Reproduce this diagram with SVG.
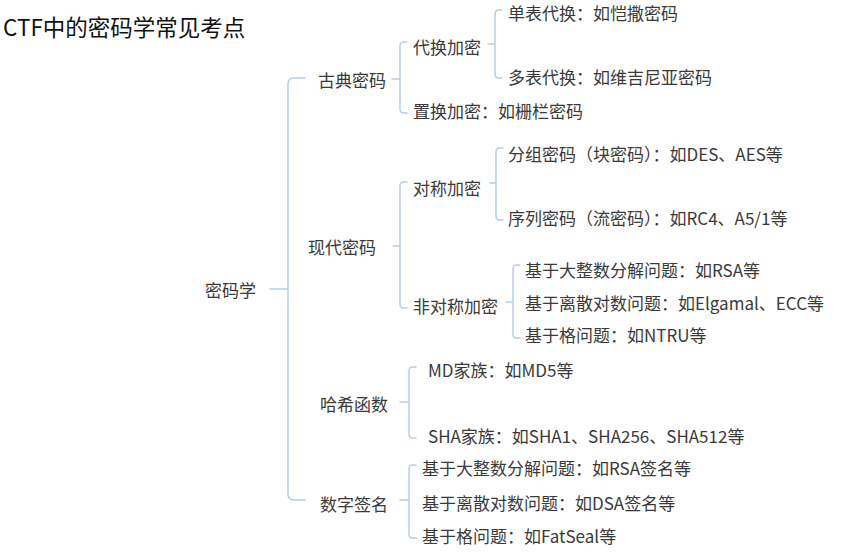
<svg xmlns="http://www.w3.org/2000/svg" width="866" height="557" viewBox="0 0 866 557">
<style>
text{font-family:"Noto Sans CJK SC","Microsoft YaHei","Liberation Sans",sans-serif;fill:#3a3a3a;font-size:17px;dominant-baseline:central}
.title{font-size:22.5px;fill:#111}
.c{fill:none;stroke:#b9cde6;stroke-width:1.5;stroke-linecap:round}
</style>
<rect width="866" height="557" fill="#fff"/>
<text class="title" x="3" y="26">CTF中的密码学常见考点</text>
<g id="connectors">
<path class="c" d="M270 289H288M305 78H294Q288 78 288 84V494Q288 500 294 500H305"/>
<path class="c" d="M392 79H400M407 42H404Q400 42 400 46V109Q400 113 404 113H407"/>
<path class="c" d="M488 44H495M502 10H499Q495 10 495 14V74Q495 78 499 78H502"/>
<path class="c" d="M393 246H400M407 182H404Q400 182 400 186V304Q400 308 404 308H407"/>
<path class="c" d="M490 183H496M503 148H500Q496 148 496 152V216Q496 220 500 220H503"/>
<path class="c" d="M506 302H513M520 265H517Q513 265 513 269V334Q513 338 517 338H520"/>
<path class="c" d="M400 402H409M416 367H413Q409 367 409 371V434Q409 438 413 438H416"/>
<path class="c" d="M400 500H409M416 465H413Q409 465 409 469V534Q409 538 413 538H416"/>
</g>
<g id="n-root"><text x="205" y="289">密码学</text></g>
<g id="n-classic"><text x="318" y="79">古典密码</text></g>
<g id="n-subst"><text x="413" y="46">代换加密</text></g>
<g id="n-mono"><text x="508" y="12">单表代换：如恺撒密码</text></g>
<g id="n-poly"><text x="508" y="76">多表代换：如维吉尼亚密码</text></g>
<g id="n-transp"><text x="413" y="110">置换加密：如栅栏密码</text></g>
<g id="n-modern"><text x="308" y="246">现代密码</text></g>
<g id="n-sym"><text x="413" y="187">对称加密</text></g>
<g id="n-block"><text x="508" y="153">分组密码（块密码）：如DES、AES等</text></g>
<g id="n-stream"><text x="508" y="217">序列密码（流密码）：如RC4、A5/1等</text></g>
<g id="n-asym"><text x="413" y="305">非对称加密</text></g>
<g id="n-rsa"><text x="525" y="269">基于大整数分解问题：如RSA等</text></g>
<g id="n-dlog"><text x="525" y="302">基于离散对数问题：如Elgamal、ECC等</text></g>
<g id="n-lattice"><text x="525" y="334">基于格问题：如NTRU等</text></g>
<g id="n-hash"><text x="320" y="403">哈希函数</text></g>
<g id="n-md"><text x="428" y="369">MD家族：如MD5等</text></g>
<g id="n-sha"><text x="428" y="435">SHA家族：如SHA1、SHA256、SHA512等</text></g>
<g id="n-sig"><text x="320" y="503">数字签名</text></g>
<g id="n-sigrsa"><text x="422" y="467">基于大整数分解问题：如RSA签名等</text></g>
<g id="n-sigdsa"><text x="422" y="502">基于离散对数问题：如DSA签名等</text></g>
<g id="n-siglat"><text x="422" y="535">基于格问题：如FatSeal等</text></g>
</svg>
